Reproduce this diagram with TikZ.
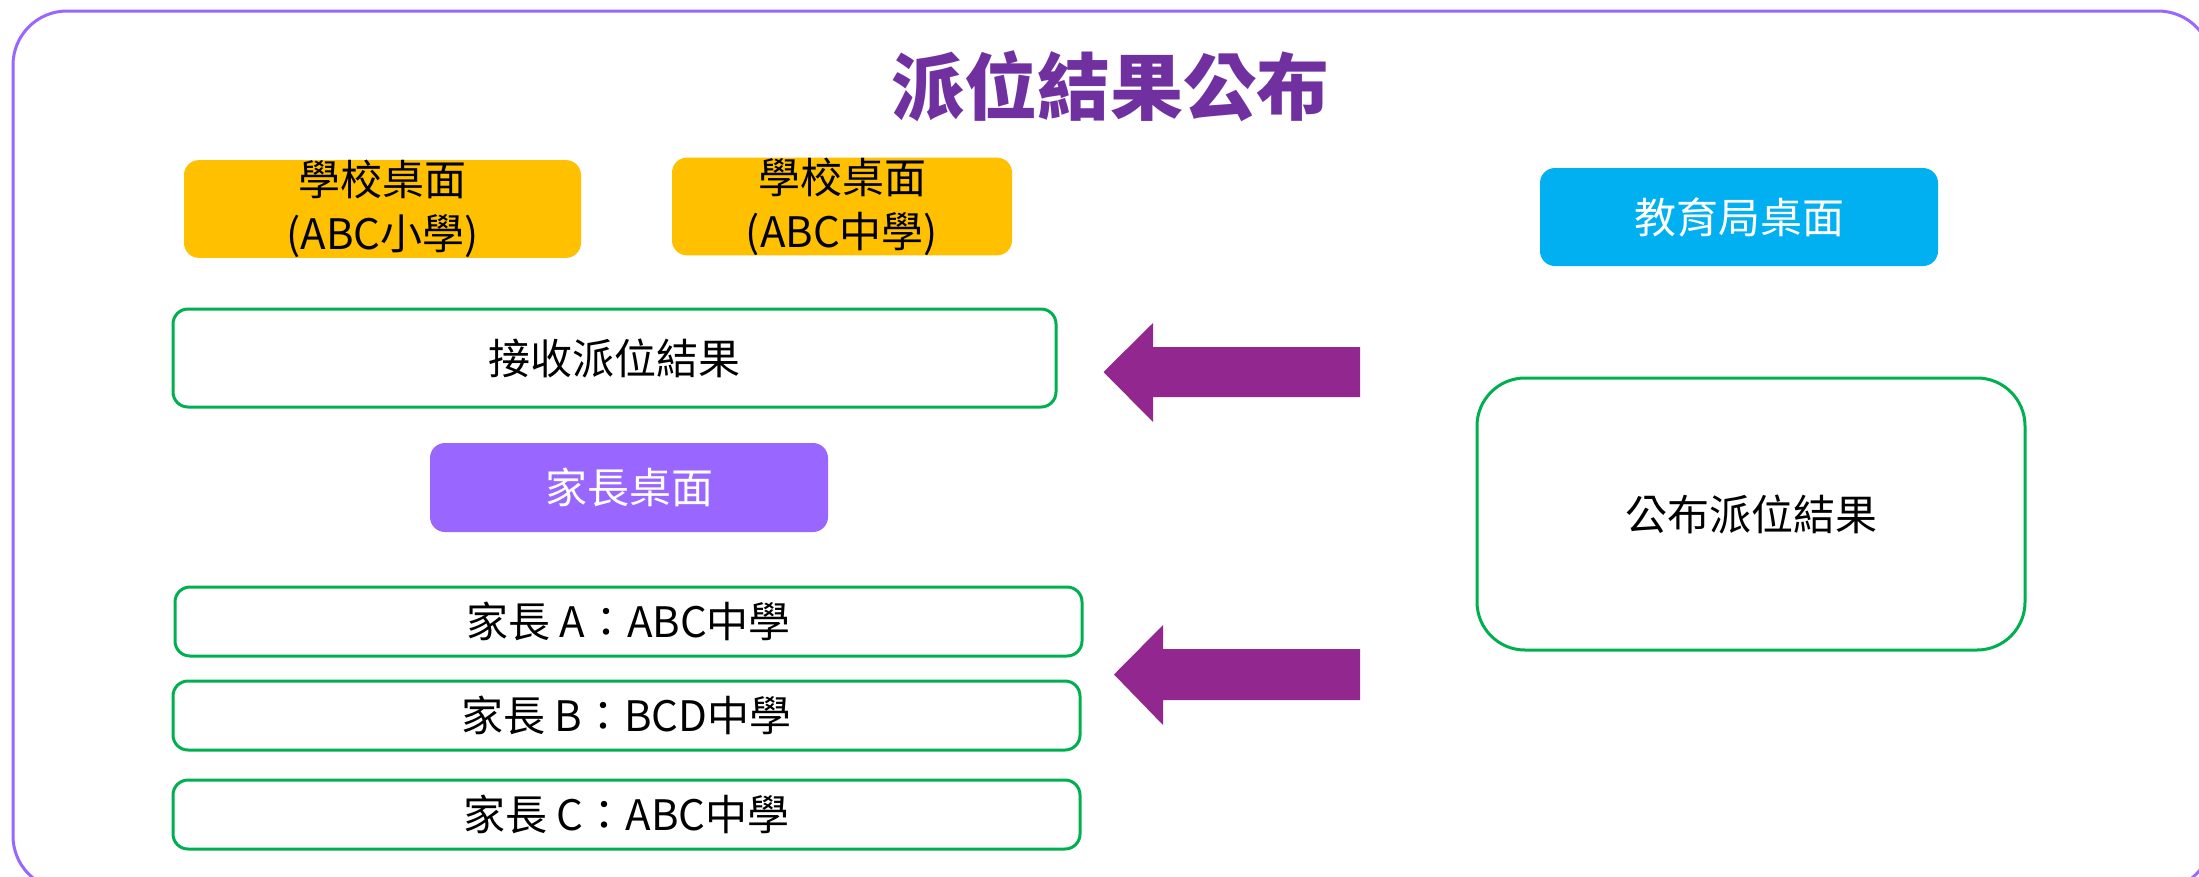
\documentclass[tikz,border=0pt]{standalone}
\usepackage{fontspec}
\setmainfont{Noto Sans CJK TC}
\definecolor{framepurple}{HTML}{9966FF}
\definecolor{titlepurple}{HTML}{7030A0}
\definecolor{schoolyellow}{HTML}{FFC000}
\definecolor{edbblue}{HTML}{00B0F0}
\definecolor{boxgreen}{HTML}{00B050}
\definecolor{arrowpurple}{HTML}{92278F}
\tikzset{
  filled/.style={rounded corners=15pt, inner sep=0pt, align=center,
    font=\fontsize{42}{54}\selectfont},
  outlined/.style={draw=boxgreen, line width=3pt, rounded corners=15pt, fill=white,
    inner sep=0pt, align=center, font=\fontsize{42}{54}\selectfont},
  blockarrow/.style={fill=arrowpurple, draw=none}
}
\begin{document}
\begin{tikzpicture}[x=1pt,y=-1pt]
\useasboundingbox (0,0) rectangle (2199,876);
\clip (0,0) rectangle (2199,876);
\fill[white] (0,0) rectangle (2199,876);
\draw[framepurple, line width=3pt, rounded corners=54pt] (13,11) rectangle (2212,890);

\node[font=\fontsize{73}{80}\selectfont\bfseries, text=titlepurple] (title) at (1110,86) {派位結果公布};

\node[filled, fill=schoolyellow, minimum width=397pt, minimum height=96pt] (s1) at (382.5,209) {學校桌面\\(ABC小學)};
\node[filled, fill=schoolyellow, minimum width=340pt, minimum height=91pt] (s2) at (842,206.5) {學校桌面\\(ABC中學)};
\node[filled, fill=edbblue, text=white, minimum width=398pt, minimum height=98pt] (edb) at (1739,217) {教育局桌面};

\node[outlined, minimum width=883pt, minimum height=98pt] (recv) at (614.5,358) {接收派位結果};
\node[filled, fill=framepurple, text=white, minimum width=398pt, minimum height=89pt] (par) at (629,487.5) {家長桌面};
\node[outlined, rounded corners=48pt, minimum width=548pt, minimum height=272pt] (pub) at (1751,514) {公布派位結果};

\node[outlined, minimum width=907pt, minimum height=69pt] (pa) at (628.5,621.5) {家長 A：ABC中學};
\node[outlined, minimum width=907pt, minimum height=69pt] (pb) at (626.5,715.5) {家長 B：BCD中學};
\node[outlined, minimum width=907pt, minimum height=69pt] (pc) at (626.5,814.5) {家長 C：ABC中學};

\fill[blockarrow] (1360,347) -- (1153,347) -- (1153,323) -- (1103.5,372) -- (1153,422) -- (1153,397) -- (1360,397) -- cycle;
\fill[blockarrow] (1360,649) -- (1163,649) -- (1163,625) -- (1114,674.5) -- (1163,725) -- (1163,700) -- (1360,700) -- cycle;
\end{tikzpicture}
\end{document}
